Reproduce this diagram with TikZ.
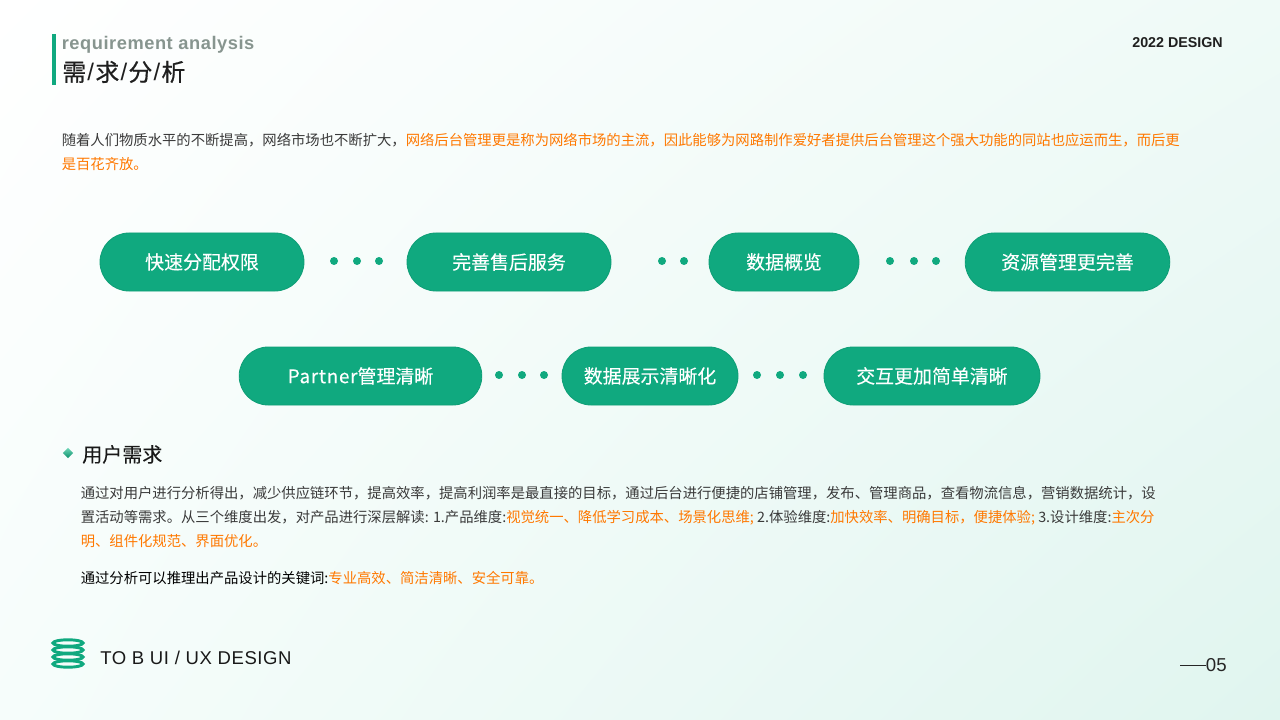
\documentclass[tikz,border=0pt]{standalone}
\usepackage{fontspec}
\setmainfont{Noto Sans CJK SC}
\newfontfamily\medfont[FakeBold=0.6]{Noto Sans CJK SC}
\newfontfamily\pillfont[FakeBold=0.15]{Noto Sans CJK SC}
\newfontfamily\pillwide[FakeBold=0.15,LetterSpace=3.7]{Noto Sans CJK SC}
\newfontfamily\arialfont{Liberation Sans}
\newfontfamily\arialwide[LetterSpace=3]{Liberation Sans}
\usetikzlibrary{shapes.geometric,shadings}
\definecolor{pillgreen}{HTML}{10A97F}
\definecolor{pillline}{HTML}{0E9E76}
\definecolor{bodygrey}{HTML}{3A3A3A}
\definecolor{hiorange}{HTML}{FF7800}
\definecolor{subgrey}{HTML}{87958F}
\definecolor{bgright}{HTML}{EFFAF7}
\definecolor{bgleft}{HTML}{F6FDFB}
\definecolor{bgcorner}{HTML}{E0F5EF}
\definecolor{marktop}{HTML}{6FD6B8}
\definecolor{markbottom}{HTML}{0A8F6A}
\tikzset{
pill/.style={draw=pillline,fill=pillgreen,rounded corners=21.7pt,line width=0.6pt,minimum height=43.5pt,inner sep=0pt,text=white,font=\pillfont\fontsize{14.2}{16}\selectfont},
dot/.style={circle,fill=pillgreen,minimum size=6pt,inner sep=0pt},
bodyline/.style={anchor=base west,inner sep=0pt,text=bodygrey,font=\fontsize{10.75}{13}\selectfont},
ring/.style={draw=pillgreen,line width=2.2pt}
}
\newcommand{\hi}[1]{{\color{hiorange}#1}}
\newcommand{\qc}{^^^^ff0c}
\newcommand{\tsl}{\kern0.9pt{\arialfont/}\kern0.9pt}
\begin{document}
\begin{tikzpicture}[x=0.75pt,y=-0.75pt]
\shade[upper left=white,upper right=bgright,lower left=bgleft,lower right=bgcorner] (0,0) rectangle (1280,720);
\useasboundingbox (0,0) rectangle (1280,720);

\fill[pillgreen] (52,34) rectangle (56,85);
\node[anchor=base west,inner sep=0pt,text=subgrey,font=\arialwide\bfseries\fontsize{13.7}{16}\selectfont] (subtitle) at (61.5,49.5) {requirement analysis};
\node[anchor=base west,inner sep=0pt,text=black!88,font=\medfont\fontsize{18}{20}\selectfont] (title) at (62,81) {需\tsl 求\tsl 分\tsl 析};
\node[anchor=base east,inner sep=0pt,text=black!88,font=\arialfont\bfseries\fontsize{10.7}{12}\selectfont] (year) at (1223,48) {2022 DESIGN};

\node[bodyline] (introa) at (61.5,145.5) {随着人们物质水平的不断提高\qc{}网络市场也不断扩大\qc{}\hi{网络后台管理更是称为网络市场的主流\qc{}因此能够为网路制作爱好者提供后台管理这个强大功能的同站也应运而生\qc{}而后更}};
\node[bodyline] (introb) at (61.5,169.5) {\hi{是百花齐放。}};

\node[pill,minimum width=153pt] (fast) at (202,262) {快速分配权限};
\node[pill,minimum width=153pt] (service) at (509,262) {完善售后服务};
\node[pill,minimum width=112.5pt] (data) at (784,262) {数据概览};
\node[pill,minimum width=153.5pt] (resource) at (1067.5,262) {资源管理更完善};
\node[pill,minimum width=182pt] (partner) at (360.5,376) {{\pillwide Partner}管理清晰};
\node[pill,minimum width=132pt] (show) at (650,376) {数据展示清晰化};
\node[pill,minimum width=162pt] (easy) at (932,376) {交互更加简单清晰};

\foreach \px/\py [count=\i] in {334/261,357/261,379/261,662/261,684/261,890/261,914/261,936/261,499/375,522/375,544/375,757/375,780/375,803/375}
\node[dot] (dot\i) at (\px,\py) {};

\node[diamond,top color=marktop,bottom color=markbottom,minimum size=8pt,inner sep=0pt] (mark) at (68,453) {};
\node[anchor=base west,inner sep=0pt,text=black!90,font=\pillfont\fontsize{15}{18}\selectfont] (need) at (82,462) {用户需求};
\node[bodyline] (bodya) at (80.5,498.5) {通过对用户进行分析得出\qc{}减少供应链环节\qc{}提高效率\qc{}提高利润率是最直接的目标\qc{}通过后台进行便捷的店铺管理\qc{}发布、管理商品\qc{}查看物流信息\qc{}营销数据统计\qc{}设};
\node[bodyline] (bodyb) at (80.5,522.5) {置活动等需求。从三个维度出发\qc{}对产品进行深层解读: 1.产品维度:\hi{视觉统一、降低学习成本、场景化思维;} 2.体验维度:\hi{加快效率、明确目标\qc{}便捷体验;} 3.设计维度:\hi{主次分}};
\node[bodyline] (bodyc) at (80.5,546.5) {\hi{明、组件化规范、界面优化。}};
\node[bodyline,text=black] (bodyd) at (80.5,583) {通过分析可以推理出产品设计的关键词:\hi{专业高效、简洁清晰、安全可靠。}};

\foreach \ry in {643,650,657,664}
\draw[ring] (68,\ry) ellipse [x radius=15,y radius=3.2];
\node[anchor=base west,inner sep=0pt,text=black!90,font=\arialwide\fontsize{13.9}{16}\selectfont] (brand) at (100,664) {TO B UI / UX DESIGN};

\coordinate (rulea) at (1180,665);
\node[anchor=base east,inner sep=0pt,text=black!85,font=\arialfont\fontsize{14}{16}\selectfont] (page) at (1227,671) {05};
\draw[black!85,line width=0.6pt] (rulea) -- (page.west |- rulea);
\end{tikzpicture}
\end{document}
